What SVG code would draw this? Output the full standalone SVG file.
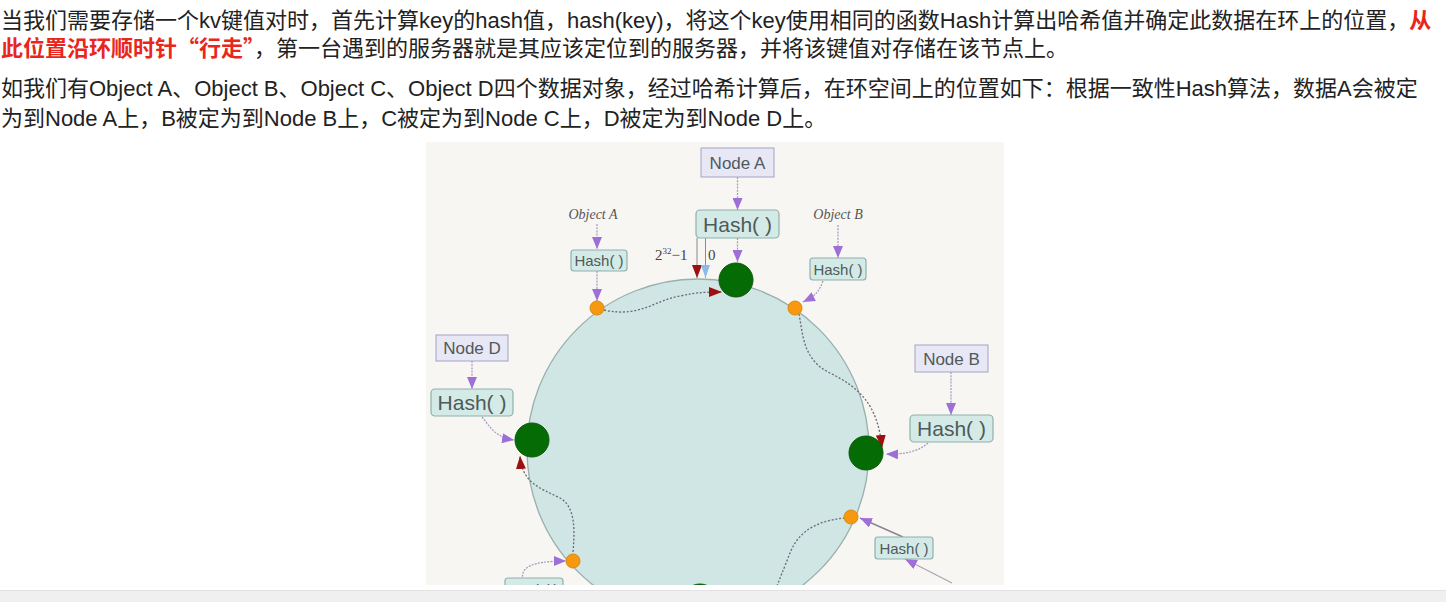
<svg xmlns="http://www.w3.org/2000/svg" width="1446" height="602" viewBox="0 0 1446 602">
<style>
.t{font-family:"Liberation Sans","Noto Sans CJK SC",sans-serif;font-size:22px;fill:#222}
.red{fill:#e8261c;font-weight:bold;font-family:"Noto Sans CJK SC",sans-serif}
.nbox{fill:#e7e7f6;stroke:#a3a3c6;stroke-width:1}
.hbox{fill:#d4eae7;stroke:#8fb0ab;stroke-width:1.2}
.lbl{font-family:"Liberation Sans",sans-serif;fill:#4f5a5a;text-anchor:middle}
.obj{font-family:"Liberation Serif",serif;font-style:italic;font-size:14px;fill:#555;text-anchor:middle}
.pl{fill:none;stroke:#a596bf;stroke-width:1.2;stroke-dasharray:2 1.2}
.dot{fill:none;stroke:#6a6a72;stroke-width:1.3;stroke-dasharray:2 1.8}
.srv{fill:#056b05;stroke:#0b5a0b;stroke-width:1}
.obk{fill:#f7980e;stroke:#d88a10;stroke-width:1}
</style>
<defs>
<marker id="aP" markerUnits="userSpaceOnUse" viewBox="0 0 12 10" markerWidth="12" markerHeight="10" refX="12" refY="5" orient="auto"><path d="M0,0 L12,5 L0,10 z" fill="#9e6fd8"/></marker>
<marker id="aR" markerUnits="userSpaceOnUse" viewBox="0 0 13 10" markerWidth="13" markerHeight="10" refX="13" refY="5" orient="auto"><path d="M0,0 L13,5 L0,10 z" fill="#9e1010"/></marker>
<marker id="aB" markerUnits="userSpaceOnUse" viewBox="0 0 13 9" markerWidth="13" markerHeight="9" refX="13" refY="4.5" orient="auto"><path d="M0,0 L13,4.5 L0,9 z" fill="#8dbbe8"/></marker>
<clipPath id="img"><rect x="426" y="142" width="578" height="443"/></clipPath>
</defs>
<rect width="1446" height="602" fill="#fff"/>
<g id="text">
<text class="t" x="1" y="28">当我们需要存储一个kv键值对时，首先计算key的hash值，hash(key)，将这个key使用相同的函数Hash计算出哈希值并确定此数据在环上的位置，<tspan class="red">从</tspan></text>
<text class="t" x="1" y="56"><tspan class="red">此位置沿环顺时针“行走”</tspan>，第一台遇到的服务器就是其应该定位到的服务器，并将该键值对存储在该节点上。</text>
<text class="t" x="1" y="96">如我们有Object A、Object B、Object C、Object D四个数据对象，经过哈希计算后，在环空间上的位置如下：根据一致性Hash算法，数据A会被定</text>
<text class="t" x="1" y="126">为到Node A上，B被定为到Node B上，C被定为到Node C上，D被定为到Node D上。</text>
</g>
<g clip-path="url(#img)">
<rect x="426" y="142" width="578" height="443" fill="#f7f6f2"/>
<circle id="ring" cx="698" cy="450" r="171" fill="#cfe6e5" stroke="#9aaeae" stroke-width="1.3"/>
<g id="connectors">
<line class="pl" x1="737.5" y1="177" x2="737.5" y2="210" marker-end="url(#aP)"/>
<line class="pl" x1="737.5" y1="238" x2="737.5" y2="262" marker-end="url(#aP)"/>
<line x1="697" y1="238" x2="697" y2="278" stroke="#8a8a8a" stroke-width="1" marker-end="url(#aR)"/>
<line x1="705.5" y1="238" x2="705.5" y2="278" stroke="#8a8a8a" stroke-width="1" marker-end="url(#aB)"/>
<line class="pl" x1="597" y1="224" x2="597" y2="249" marker-end="url(#aP)"/>
<line class="pl" x1="597" y1="271" x2="597" y2="301" marker-end="url(#aP)"/>
<line class="pl" x1="838" y1="225" x2="838" y2="258" marker-end="url(#aP)"/>
<path class="pl" d="M823,281 C819,292 815,296 803,302" marker-end="url(#aP)"/>
<line class="pl" x1="951" y1="372" x2="951" y2="415" marker-end="url(#aP)"/>
<path class="pl" d="M928,443 Q915,455 886,454" marker-end="url(#aP)"/>
<line class="pl" x1="472" y1="361" x2="472" y2="389" marker-end="url(#aP)"/>
<path class="pl" d="M482,417 C490,426 494,437 514,440" marker-end="url(#aP)"/>
<path class="pl" d="M523,580 C520,568 530,561 566,561" marker-end="url(#aP)"/>
<path d="M903,537 L860,518" fill="none" stroke="#8c8590" stroke-width="1.4" marker-end="url(#aP)"/>
<path d="M952,583 L905,559" fill="none" stroke="#a9a4b3" stroke-width="1.2" marker-end="url(#aP)"/>
<path class="dot" d="M604,310 C640,318 655,300 680,296 C695,293 700,292 722,292" marker-end="url(#aR)"/>
<path class="dot" d="M799,314 C803,335 803,360 830,373 C860,388 878,405 882,448" marker-end="url(#aR)"/>
<path class="dot" d="M573,552 C576,520 572,505 560,498 C540,488 522,483 520,456" marker-end="url(#aR)"/>
<path class="dot" d="M845,518 C812,521 797,535 790,553 S780,578 777,586"/>
</g>
<g id="nodeA">
<rect class="nbox" x="701" y="148" width="73" height="29"/>
<text class="lbl" x="737.5" y="169" font-size="17">Node A</text>
</g>
<g id="hashNodeA">
<rect class="hbox" x="696" y="210" width="83" height="28" rx="4"/>
<text class="lbl" x="737.5" y="232" font-size="21">Hash( )</text>
</g>
<g id="ringLabels">
<text x="655" y="260" font-family="Liberation Serif,serif" font-size="15" fill="#444">2<tspan font-size="9" dy="-6">32</tspan><tspan dy="6">−1</tspan></text>
<text x="708" y="260" font-family="Liberation Serif,serif" font-size="15" fill="#444">0</text>
</g>
<g id="serverA"><circle class="srv" cx="736" cy="280" r="17"/></g>
<g id="objectA">
<text class="obj" x="593" y="219">Object A</text>
<rect class="hbox" x="571" y="250" width="56" height="21" rx="3"/>
<text class="lbl" x="599" y="266" font-size="15">Hash( )</text>
<circle class="obk" cx="597" cy="308" r="7"/>
</g>
<g id="objectB">
<text class="obj" x="838" y="219">Object B</text>
<rect class="hbox" x="810" y="258" width="56" height="22" rx="3"/>
<text class="lbl" x="838" y="275" font-size="15">Hash( )</text>
<circle class="obk" cx="795" cy="308" r="7"/>
</g>
<g id="nodeB">
<rect class="nbox" x="915" y="345" width="73" height="27"/>
<text class="lbl" x="951.5" y="365" font-size="17">Node B</text>
<rect class="hbox" x="910" y="415" width="83" height="27" rx="4"/>
<text class="lbl" x="951.5" y="436" font-size="21">Hash( )</text>
<circle class="srv" cx="866" cy="453" r="17"/>
</g>
<g id="nodeD">
<rect class="nbox" x="436" y="335" width="72" height="26"/>
<text class="lbl" x="472" y="354" font-size="17">Node D</text>
<rect class="hbox" x="431" y="389" width="82" height="27" rx="4"/>
<text class="lbl" x="472" y="410" font-size="21">Hash( )</text>
<circle class="srv" cx="532" cy="440" r="17"/>
</g>
<g id="objectC">
<rect class="hbox" x="875" y="537" width="58" height="22" rx="3"/>
<text class="lbl" x="904" y="554" font-size="15">Hash( )</text>
<circle class="obk" cx="851" cy="517" r="7"/>
<text class="obj" x="955" y="596">Object C</text>
</g>
<g id="objectD">
<rect class="hbox" x="505" y="578" width="58" height="22" rx="3"/>
<text class="lbl" x="534" y="595" font-size="15">Hash( )</text>
<circle class="obk" cx="573" cy="561" r="7"/>
</g>
<g id="nodeC"><circle class="srv" cx="700" cy="601" r="17"/></g>
</g>
<rect x="0" y="590" width="1446" height="12" fill="#f0f0f0"/>
<line x1="0" y1="590.5" x2="1446" y2="590.5" stroke="#e2e2e2"/>
</svg>
